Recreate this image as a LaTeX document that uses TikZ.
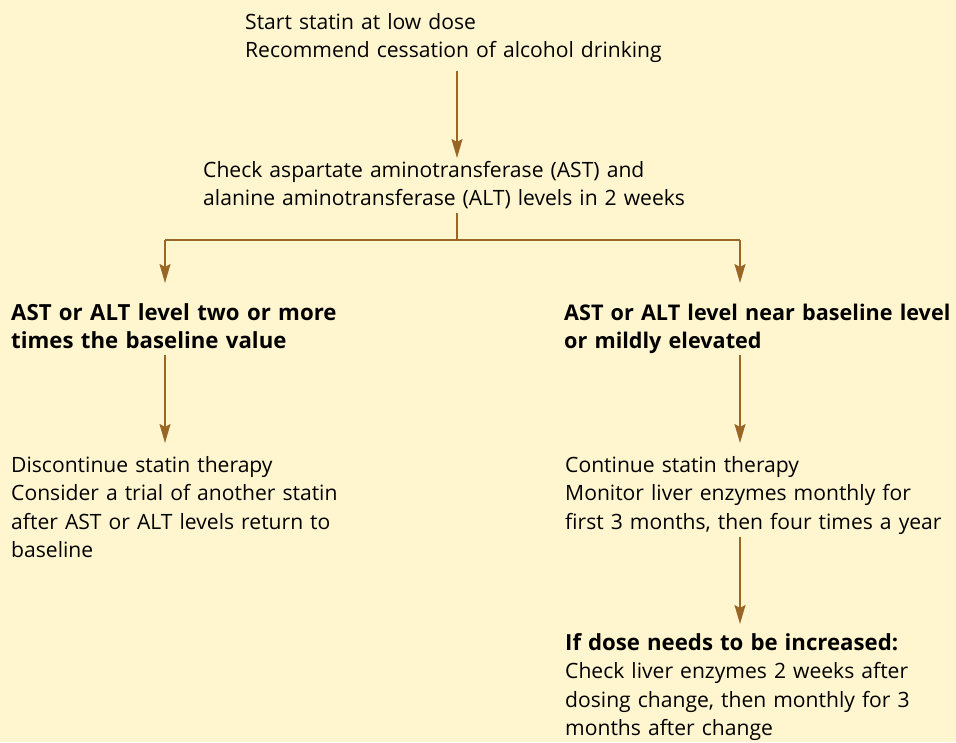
\documentclass[tikz,border=0pt]{standalone}
\usepackage{fontspec}
\setmainfont{Open Sans}
\usetikzlibrary{arrows.meta}
\definecolor{bg}{RGB}{255,246,207}
\definecolor{brn}{RGB}{154,102,38}
\begin{document}
\begin{tikzpicture}[x=1pt,y=-1pt,
  txt/.style={anchor=base west,inner sep=0pt,text width=600pt,align=left,
    font=\fontsize{21.1}{28.5}\selectfont},
  bld/.style={txt,font=\fontsize{22.2}{28.5}\selectfont\bfseries},
  arr/.style={draw=brn,line width=1.5pt,-{Stealth[length=19pt,width=11pt,inset=3pt]}},
  ln/.style={draw=brn,line width=1.5pt}]
\fill[bg] (0,0) rectangle (956,742);
\useasboundingbox (0,0) rectangle (956,742);
\node[txt] (top) at (245,29) {Start statin at low dose\\Recommend cessation of alcohol drinking};
\node[txt] (check) at (203,177) {Check aspartate aminotransferase (AST) and\\alanine aminotransferase (ALT) levels in 2 weeks};
\node[bld] (lhi) at (11,320) {AST or ALT level two or more\\times the baseline value};
\node[bld,font=\fontsize{21.6}{28.5}\selectfont\bfseries] (rlo) at (564,320) {AST or ALT level near baseline level\\or mildly elevated};
\node[txt] (disc) at (11,472) {Discontinue statin therapy\\Consider a trial of another statin\\after AST or ALT levels return to\\baseline};
\node[txt] (cont) at (565,472) {Continue statin therapy\\Monitor liver enzymes monthly for\\first 3 months, then four times a year};
\node[txt] (dose) at (565,650) {{\fontsize{22.2}{28.5}\selectfont\bfseries If dose needs to be increased:}\\Check liver enzymes 2 weeks after\\dosing change, then monthly for 3\\months after change};
\coordinate (split) at (457,240);
\coordinate (ls) at (165,240);
\coordinate (rs) at (740,240);
\draw[arr] (457,71) coordinate (a1s) -- (457,158) coordinate (a1e);
\draw[ln] (457,213) coordinate (stub) -- (split);
\draw[ln] (ls) -- (rs);
\draw[arr] (ls) -- (165,283) coordinate (lhiT);
\draw[arr] (rs) -- (740,283) coordinate (rloT);
\draw[arr] (165,355) coordinate (l2s) -- (165,443) coordinate (l2e);
\draw[arr] (740,355) coordinate (r2s) -- (740,443) coordinate (r2e);
\draw[arr] (740,537) coordinate (r3s) -- (740,624) coordinate (r3e);
\end{tikzpicture}
\end{document}
